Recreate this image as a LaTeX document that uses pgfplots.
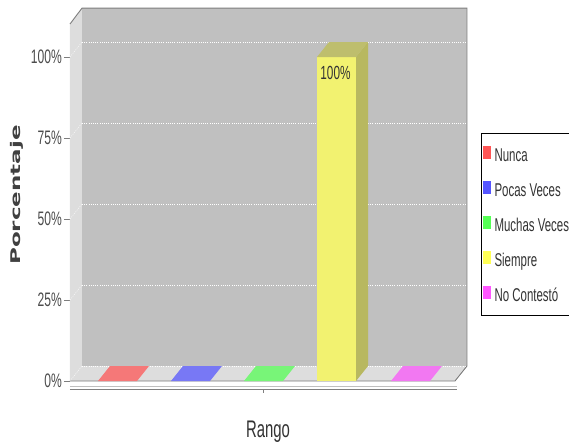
\documentclass[border=0pt]{standalone}
\usepackage{pgfplots}
\pgfplotsset{compat=1.18}
\usepackage{graphicx}
\usepackage{fontspec}
\setmainfont{Liberation Sans}
\newfontfamily\cond{Liberation Sans}[FakeStretch=0.62]
\newfontfamily\dvs{DejaVu Sans}

\definecolor{backwall}{RGB}{192,192,192}
\definecolor{sidewall}{RGB}{221,221,221}
\definecolor{frame}{RGB}{125,125,125}
\definecolor{nuncaF}{RGB}{245,120,120}
\definecolor{pocasF}{RGB}{120,120,245}
\definecolor{muchasF}{RGB}{120,245,120}
\definecolor{siempreF}{RGB}{242,242,112}
\definecolor{siempreD}{RGB}{184,184,96}
\definecolor{nocF}{RGB}{242,120,242}
\definecolor{nuncaL}{RGB}{255,85,85}
\definecolor{pocasL}{RGB}{85,85,255}
\definecolor{muchasL}{RGB}{85,255,85}
\definecolor{siempreL}{RGB}{255,255,85}
\definecolor{nocL}{RGB}{255,85,255}

\begin{document}
\begin{tikzpicture}
\begin{axis}[
    name=ax,
    scale only axis,
    width=397bp, height=357bp,
    xmin=0, xmax=397,
    ymin=0, ymax=110.2,
    clip=false,
    axis x line=none,
    axis y line=left,
    y axis line style={-, frame},
    ytick={0,25,50,75,100},
    yticklabels={0\%,25\%,50\%,75\%,100\%},
    tick align=outside,
    major tick length=6bp,
    tick style={frame},
    yticklabel style={font=\cond\fontsize{19.5bp}{21bp}\selectfont, text=black!70, inner sep=0pt, xshift=-2bp},
    legend style={
        at={(axis cs:411,76.5)}, anchor=north west,
        draw=black, line width=1bp, fill=white,
        inner xsep=1bp, inner ysep=12bp,
        row sep=17.5bp,
        font=\cond\fontsize{18.5bp}{20bp}\selectfont, text=black!80,
        nodes={inner sep=0pt, text height=15bp, text depth=2bp, anchor=west},
        /tikz/every odd column/.append style={column sep=4bp},
    },
    legend cell align=left,
]
% walls and floor
\addplot[fill=backwall, draw=none, forget plot] coordinates {(12,4.63) (397,4.63) (397,115.1) (12,115.1)} -- cycle;
\addplot[fill=sidewall, draw=none, forget plot] coordinates {(0,0) (12,4.63) (12,115.1) (0,110.2)} -- cycle;
\addplot[fill=sidewall, draw=none, forget plot] coordinates {(0,0) (385,0) (397,4.63) (12,4.63)} -- cycle;
% grid lines on back wall and left wall
\pgfplotsinvokeforeach{0,25,50,75,100}{
  \addplot[white, line width=0.8bp, dash pattern=on 1bp off 1.2bp, forget plot] coordinates {(12,#1+4.63) (397,#1+4.63)};
  \addplot[white!70!sidewall, line width=0.6bp, dash pattern=on 1bp off 1.2bp, forget plot] coordinates {(0,#1) (12,#1+4.63)};
}
% frame outline
\addplot[frame, line width=0.9bp, forget plot] coordinates {(0,110.2) (12,115.1) (397,115.1) (397,4.63) (385,0) (0,0)};
% bars: Nunca 0, Pocas Veces 0, Muchas Veces 0, Siempre 100, No Contesto 0
\addplot[fill=nuncaF, draw=none, legend image code/.code={\fill[nuncaL] (0bp,-4bp) rectangle (8bp,9bp);}]
  coordinates {(28,0) (67,0) (79,4.63) (40,4.63)} -- cycle;
\addlegendentry{Nunca}
\addplot[fill=pocasF, draw=none, legend image code/.code={\fill[pocasL] (0bp,-4bp) rectangle (8bp,9bp);}]
  coordinates {(101,0) (140,0) (152,4.63) (113,4.63)} -- cycle;
\addlegendentry{Pocas Veces}
\addplot[fill=muchasF, draw=none, legend image code/.code={\fill[muchasL] (0bp,-4bp) rectangle (8bp,9bp);}]
  coordinates {(174,0) (213,0) (225,4.63) (186,4.63)} -- cycle;
\addlegendentry{Muchas Veces}
\addplot[fill=siempreF, draw=none, legend image code/.code={\fill[siempreL] (0bp,-4bp) rectangle (8bp,9bp);}]
  coordinates {(247,0) (286,0) (286,100) (247,100)} -- cycle;
\addlegendentry{Siempre}
\addplot[fill=siempreD, draw=none, forget plot] coordinates {(286,0) (298,4.63) (298,104.63) (286,100)} -- cycle;
\addplot[fill=siempreD!92!white, draw=none, forget plot] coordinates {(247,100) (286,100) (298,104.63) (259,104.63)} -- cycle;
\addplot[fill=nocF, draw=none, legend image code/.code={\fill[nocL] (0bp,-4bp) rectangle (8bp,9bp);}]
  coordinates {(321,0) (360,0) (372,4.63) (333,4.63)} -- cycle;
\addlegendentry{No Contestó}
% category axis
\addplot[black!25, line width=0.8bp, forget plot] coordinates {(0,-1.7) (387,-1.7)};
\addplot[black!50, line width=1bp, forget plot] coordinates {(0,-2.47) (387,-2.47)};
\addplot[black!50, line width=0.8bp, forget plot] coordinates {(193,-2.47) (193,-3.7)};
% labels
\node[font=\cond\fontsize{19bp}{21bp}\selectfont, text=black!80] at (axis cs:265.5,95.1) {100\%};
\node[anchor=base, font=\cond\fontsize{24bp}{26bp}\selectfont, text=black!80] at (axis cs:198,-17.3) {Rango};
\node[rotate=90, text=black!75] at (axis cs:-53,57.4) {\scalebox{1}[0.58]{\dvs\bfseries\fontsize{23bp}{25bp}\selectfont Porcentaje}};
\end{axis}
\pgfresetboundingbox
\path[use as bounding box] ([shift={(-70bp,-64bp)}]ax.south west) rectangle ++(569bp,445bp);
\end{tikzpicture}
\end{document}
